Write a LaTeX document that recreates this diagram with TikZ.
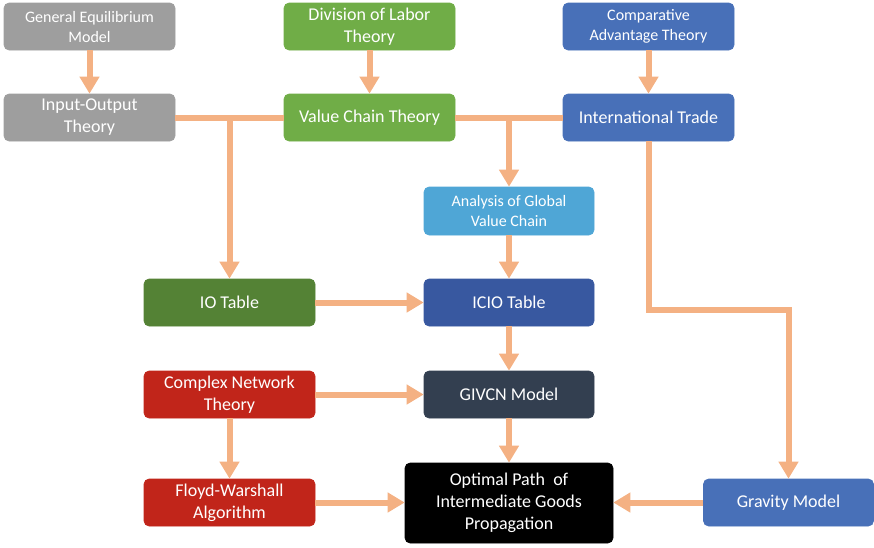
\documentclass[tikz,border=0pt]{standalone}
\usepackage{fontspec}
\setmainfont{Carlito}
\usetikzlibrary{arrows.meta}
\definecolor{cgray}{HTML}{9E9E9E}
\definecolor{cgreen}{HTML}{70AD47}
\definecolor{cblue}{HTML}{4870B8}
\definecolor{clblue}{HTML}{4FA6D6}
\definecolor{cdgreen}{HTML}{548235}
\definecolor{cicio}{HTML}{3858A0}
\definecolor{cnavy}{HTML}{333F50}
\definecolor{cred}{HTML}{C1251A}
\definecolor{carrow}{HTML}{F4B183}
\tikzset{
  box/.style={rounded corners=5pt, inner sep=0pt, minimum width=171pt, minimum height=47pt,
    text=white, align=center, draw=#1, fill=#1, line width=0.6pt},
  big/.style={font=\fontsize{18}{22}\selectfont},
  small/.style={font=\fontsize{16}{20}\selectfont},
  conn/.style={draw=carrow, line width=6pt},
  arr/.style={conn, -{Triangle[length=17pt,width=19pt]}},
}
\begin{document}
\begin{tikzpicture}[x=1pt,y=-1pt]
\useasboundingbox (0,0) rectangle (874,547);
\node[box=cgray, small] (ge) at (89.5,26.5) {General Equilibrium\\Model};
\node[box=cgreen, big] (dl) at (369.5,26.5) {Division of Labor\\Theory};
\node[box=cblue, small] (ca) at (648.5,26.5) {Comparative\\Advantage Theory};
\node[box=cgray, big] (iot) at (89.5,117.5) {Input-Output\\Theory};
\node[box=cgreen, big] (vc) at (369.5,117.5) {Value Chain Theory};
\node[box=cblue, big] (it) at (648.5,117.5) {International Trade};
\node[box=clblue, small, minimum height=48pt, minimum width=170pt] (agvc) at (509,211) {Analysis of Global\\Value Chain};
\node[box=cdgreen, big] (iotab) at (229.5,302.5) {IO Table};
\node[box=cicio, big, minimum width=170pt] (icio) at (509,302.5) {ICIO Table};
\node[box=cred, big] (cn) at (229.5,394.5) {Complex Network\\Theory};
\node[box=cnavy, big, minimum width=170pt] (givcn) at (509,394.5) {GIVCN Model};
\node[box=cred, big] (fw) at (229.5,502.5) {Floyd-Warshall\\Algorithm};
\node[box=black, big, minimum width=208pt, minimum height=80pt] (opt) at (509,503) {Optimal Path\ \ of\\Intermediate Goods\\Propagation};
\node[box=cblue, big, minimum width=170pt] (gm) at (788.5,502.5) {Gravity Model};
\coordinate (bend1) at (648.5,310);
\coordinate (bend2) at (788.5,310);

\draw[arr] (ge) -- (iot);
\draw[arr] (dl) -- (vc);
\draw[arr] (ca) -- (it);
\draw[conn] (iot.east) -- (vc.west);
\draw[arr] (iotab.north |- iot.east) -- (iotab.north);
\draw[conn] (vc.east) -- (it.west);
\draw[arr] (agvc.north |- vc.east) -- (agvc.north);
\draw[arr, line join=miter] (it.south) -- (bend1) -- (bend2) -- (gm.north);
\draw[arr] (agvc) -- (icio);
\draw[arr] (iotab) -- (icio);
\draw[arr] (icio) -- (givcn);
\draw[arr] (cn) -- (givcn);
\draw[arr] (givcn) -- (opt);
\draw[arr] (cn) -- (fw);
\draw[arr] (fw) -- (fw.east -| opt.west);
\draw[arr] (gm) -- (gm.west -| opt.east);
\end{tikzpicture}
\end{document}
